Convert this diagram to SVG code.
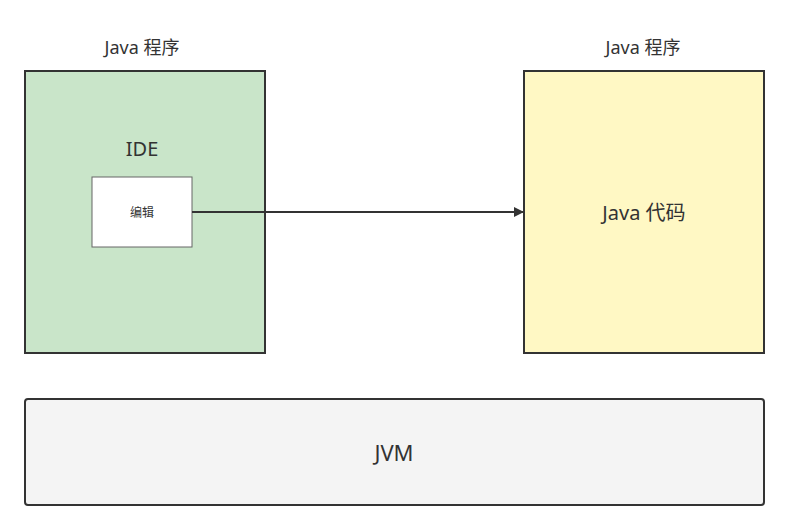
<svg xmlns="http://www.w3.org/2000/svg" width="789" height="531" viewBox="0 0 789 531">
<style>
text{font-family:"Noto Sans","Noto Sans CJK SC",sans-serif;fill:#333;text-anchor:middle;dominant-baseline:central}
.box{stroke:#333;stroke-width:2}
</style>
<defs>
<marker id="ah" markerWidth="10" markerHeight="10" refX="9" refY="5" orient="auto" markerUnits="userSpaceOnUse">
<path d="M0,0 L10,5 L0,10 Z" fill="#333"/>
</marker>
</defs>
<rect width="789" height="531" fill="#fff"/>
<g id="ide">
<text x="142" y="47" font-size="18">Java 程序</text>
<rect class="box" x="25" y="71" width="240" height="282" fill="#c9e5c9"/>
<text x="142" y="148" font-size="20">IDE</text>
</g>
<g id="edit">
<rect x="92" y="177" width="100" height="70" fill="#fff" stroke="#666" stroke-width="1"/>
<text x="142" y="212" font-size="12">编辑</text>
</g>
<g id="code">
<text x="643" y="47" font-size="18">Java 程序</text>
<rect class="box" x="524" y="71" width="240" height="282" fill="#fff8c4"/>
<text x="644" y="212" font-size="20">Java 代码</text>
</g>
<g id="jvm">
<rect class="box" x="25" y="399" width="739" height="106" rx="3" fill="#f4f4f4"/>
<text x="394" y="452" font-size="22">JVM</text>
</g>
<g id="connectors">
<line x1="192" y1="212" x2="523" y2="212" stroke="#333" stroke-width="2" marker-end="url(#ah)"/>
</g>
</svg>
